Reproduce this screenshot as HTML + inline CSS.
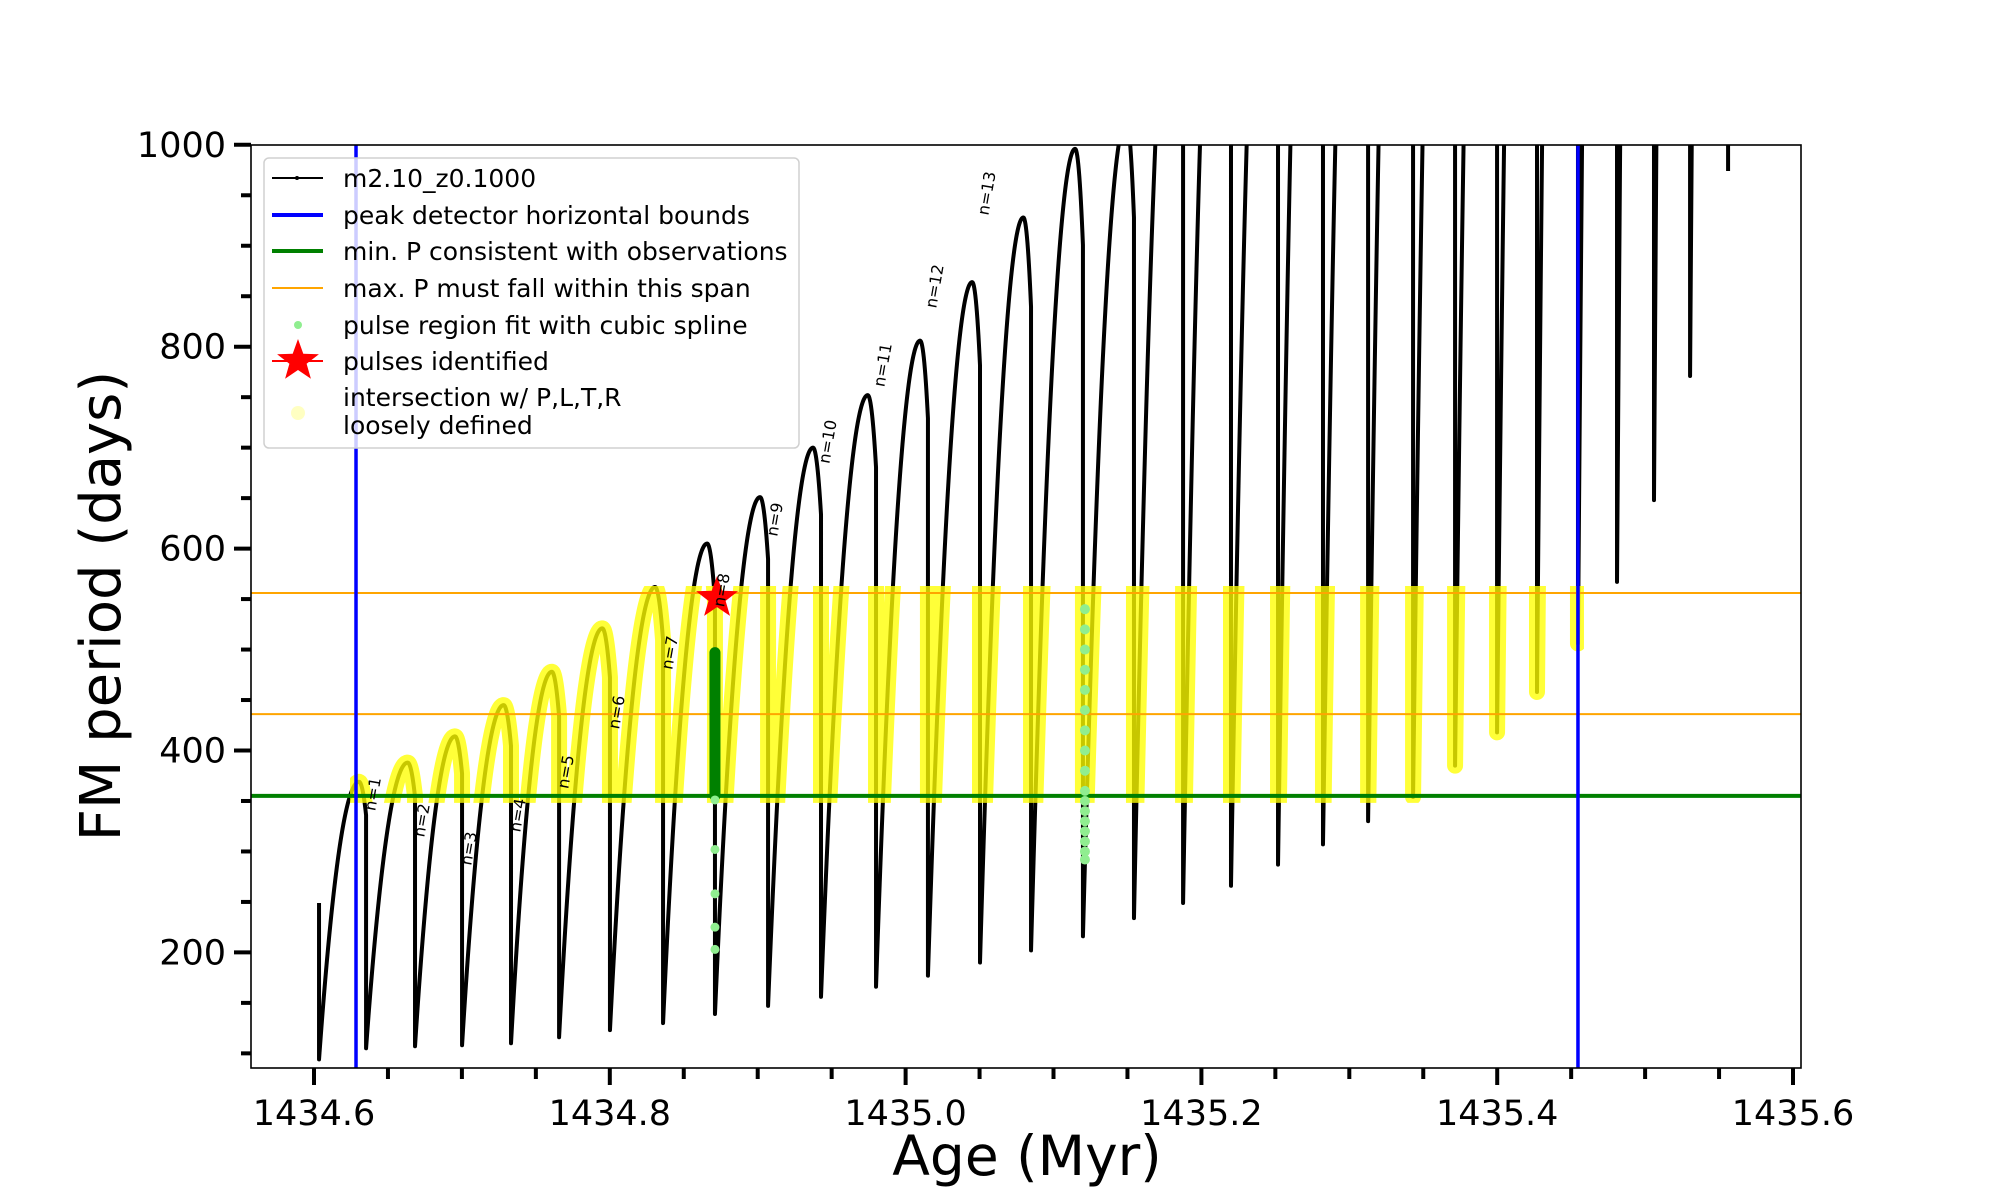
<!DOCTYPE html>
<html><head><meta charset="utf-8"><title>FM period vs Age</title>
<style>
html,body{margin:0;padding:0;background:#fff;}
svg{display:block;font-family:"DejaVu Sans","Liberation Sans",sans-serif;}
</style></head>
<body>
<svg id="chart" width="2000" height="1200" viewBox="0 0 2000 1200">
  <defs>
    <clipPath id="plotClip"><rect x="251" y="145" width="1550" height="923"/></clipPath>
    <clipPath id="bandClip"><rect id="bandRect" x="0" y="0" width="0" height="0"/></clipPath>
  </defs>
  <rect x="0" y="0" width="2000" height="1200" fill="#fff"/>
  <g id="plot" clip-path="url(#plotClip)"></g>
  <rect x="251" y="145" width="1550" height="923" fill="none" stroke="#000" stroke-width="1.6"/>
  <g id="xticks"></g>
  <g id="yticks"></g>
  <text x="1027" y="1175" font-size="55" text-anchor="middle">Age (Myr)</text>
  <text transform="translate(120,606) rotate(-90)" font-size="56" text-anchor="middle">FM period (days)</text>

  <g>
    <rect x="264" y="158" width="535" height="290" rx="5" fill="#fff" fill-opacity="0.8" stroke="#d0d0d0" stroke-width="1.5"/>
    <g>
      <line x1="272" y1="178" x2="323" y2="178" stroke="#000" stroke-width="2"/>
      <circle cx="297" cy="178" r="2" fill="#000"/>
      <text x="343" y="187" font-size="25">m2.10_z0.1000</text>
    </g>
    <g>
      <line x1="272" y1="215" x2="323" y2="215" stroke="#0000ff" stroke-width="4"/>
      <text x="343" y="224" font-size="25">peak detector horizontal bounds</text>
    </g>
    <g>
      <line x1="272" y1="251" x2="323" y2="251" stroke="#008000" stroke-width="4"/>
      <text x="343" y="260" font-size="25">min. P consistent with observations</text>
    </g>
    <g>
      <line x1="272" y1="288" x2="323" y2="288" stroke="#ffa500" stroke-width="2"/>
      <text x="343" y="297" font-size="25">max. P must fall within this span</text>
    </g>
    <g>
      <circle cx="298" cy="325" r="4" fill="#90ee90"/>
      <text x="343" y="334" font-size="25">pulse region fit with cubic spline</text>
    </g>
    <g>
      <line x1="272" y1="361" x2="323" y2="361" stroke="#ff0000" stroke-width="2"/>
      <polygon id="legendStar" fill="#ff0000"/>
      <text x="343" y="370" font-size="25">pulses identified</text>
    </g>
    <g>
      <circle cx="298" cy="413" r="7" fill="#ffff99" fill-opacity="0.6"/>
      <text x="343" y="406" font-size="25">intersection w/ P,L,T,R</text>
      <text x="343" y="434" font-size="25">loosely defined</text>
    </g>
  </g>
</svg>
<script>
// ---- data ----
const pulseAges = [1434.6034,1434.6352,1434.6683,1434.7001,1434.7332,1434.7657,1434.8001,1434.8360,1434.8711,1434.9070,1434.9428,1434.9800,1435.0151,1435.0503,1435.0848,1435.1199,1435.1544,1435.1876,1435.2200,1435.2518,1435.2822,1435.3127,1435.3431,1435.3715,1435.3999,1435.4269,1435.4546,1435.4810,1435.5060,1435.5304,1435.5561];
const archPeaks = [369,388,414,445,478,521,562,605,651,700,752,806,864,928,996,1025,1240,1390,1430,1600,1590,1750,1760,1850,1990,2460,2650,2850,3000,3060];
const pulseMins = [94,105,107,108,110,116,123,130,139,147,156,166,177,190,202,216,234,249,266,287,307,330,354,385,418,458,506,567,648,771,974];
const firstTop = 249;
const blueBounds = [1434.6284, 1435.4546];
const minP = 355;
const maxPSpan = [436, 556];
const xTicks = [1434.6,1434.8,1435.0,1435.2,1435.4,1435.6];
const xTickLabels = ["1434.6","1434.8","1435.0","1435.2","1435.4","1435.6"];
const yTicks = [200,400,600,800,1000];
const yTickLabels = ["200","400","600","800","1000"];
const pulseLabels = ["n=1","n=2","n=3","n=4","n=5","n=6","n=7","n=8","n=9","n=10","n=11","n=12","n=13"];
const pulseLabelVals = [356,330,302,335,378,437,496,558,628,705,781,859,951];
const splineDarkRange = [355, 497];
const splineLightA = [351, 302, 258, 225, 203];
const splineLightB = [540, 520, 500, 480, 460, 440, 420, 400, 380, 360, 350, 340, 330, 320, 310, 300, 292];
const starAge = 1434.8725, starVal = 551;

// ---- axes ----
const X0=251, X1=1801, Y0=145, Y1=1068;
const xMin=1434.5574, xMax=1435.6054, yMin=85.5, yMax=999.8;
const sx = a => X0 + (a-xMin)/(xMax-xMin)*(X1-X0);
const sy = v => Y1 - (v-yMin)/(yMax-yMin)*(Y1-Y0);
const NS='http://www.w3.org/2000/svg';
const svg=document.getElementById('chart');
const plot=document.getElementById('plot');
function mk(tag, attrs, parent){const e=document.createElementNS(NS,tag);for(const k in attrs)e.setAttribute(k,attrs[k]);(parent||svg).appendChild(e);return e;}

const xg=document.getElementById('xticks');
for(let a=1434.6;a<=1435.6001;a+=0.05){
  const major=Math.abs(Math.round(a*5)-a*5)<1e-6;
  const t=mk('line',{x1:sx(a),x2:sx(a),y1:Y1,y2:Y1+(major?17:11),stroke:'#000','stroke-width':4},xg);
  
  
}
xTicks.forEach((a,i)=>{
  const t=mk('text',{x:sx(a),y:Y1+57,'font-size':35,'text-anchor':'middle'},xg);
  t.textContent=xTickLabels[i];
  
  
});
const yg=document.getElementById('yticks');
for(let v=100;v<=1000;v+=50){
  const major=v%200===0;
  const t=mk('line',{x1:X0-(major?17:10),x2:X0,y1:sy(v),y2:sy(v),stroke:'#000','stroke-width':4},yg);
  
  
}
yTicks.forEach((v,i)=>{
  const t=mk('text',{x:226,y:sy(v)+12,'font-size':35,'text-anchor':'end'},yg);
  t.textContent=yTickLabels[i];
  
  
});

function shape(s){const sp=0.85;if(s<=sp){const u=1-s/sp;return 1-u*u;}const w=(s-sp)/(1-sp);return 1-0.12*w*w;}
let d='M'+sx(pulseAges[0]).toFixed(2)+','+sy(firstTop).toFixed(2)+' L'+sx(pulseAges[0]).toFixed(2)+','+sy(pulseMins[0]).toFixed(2);
for(let i=0;i<archPeaks.length;i++){
  const a0=pulseAges[i],a1=pulseAges[i+1],m=pulseMins[i],p=archPeaks[i];
  const N=100;
  for(let k=1;k<=N;k++){const s=k/N;const v=m+(p-m)*shape(s);d+=' L'+sx(a0+(a1-a0)*s).toFixed(2)+','+sy(v).toFixed(2);}
  d+=' L'+sx(a1).toFixed(2)+','+sy(pulseMins[i+1]).toFixed(2);
}
const br=document.getElementById('bandRect');
br.setAttribute('x',sx(blueBounds[0])-6);
br.setAttribute('width',sx(blueBounds[1])-sx(blueBounds[0])+12);
br.setAttribute('y',sy(maxPSpan[1])-7);
br.setAttribute('height',sy(minP)-sy(maxPSpan[1])+14);

const curve=mk('path',{d:d,fill:'none',stroke:'#000','stroke-width':4,'stroke-linejoin':'round'},plot);



const yel=mk('path',{d:d,fill:'none',stroke:'#ffff00','stroke-width':16,'stroke-opacity':0.78,'stroke-linejoin':'round','stroke-linecap':'round','clip-path':'url(#bandClip)'},plot);



[maxPSpan[0],maxPSpan[1]].forEach(v=>{
  const l=mk('line',{x1:X0,x2:X1,y1:sy(v),y2:sy(v),stroke:'#ffa500','stroke-width':2},plot);
  
  
});
const gl=mk('line',{x1:X0,x2:X1,y1:sy(minP),y2:sy(minP),stroke:'#008000','stroke-width':4},plot);


blueBounds.forEach(a=>{
  const l=mk('line',{x1:sx(a),x2:sx(a),y1:Y0,y2:Y1,stroke:'#0000ff','stroke-width':3.5},plot);
  
  
});

const dg=mk('line',{x1:sx(pulseAges[8]),x2:sx(pulseAges[8]),y1:sy(splineDarkRange[0]),y2:sy(splineDarkRange[1]),stroke:'#008000','stroke-width':11,'stroke-linecap':'round'},plot);


splineLightA.forEach(v=>{
  const c=mk('circle',{cx:sx(pulseAges[8]),cy:sy(v),r:4.5,fill:'#90ee90'},plot);
  
  
});
splineLightB.forEach(v=>{
  const c=mk('circle',{cx:sx(pulseAges[15])+2,cy:sy(v),r:5,fill:'#90ee90'},plot);
  
  
});

function starPts(cx,cy,R,r){let p=[];for(let k=0;k<10;k++){const ang=-Math.PI/2+k*Math.PI/5;const rr=k%2?r:R;p.push((cx+rr*Math.cos(ang)).toFixed(1)+','+(cy+rr*Math.sin(ang)).toFixed(1));}return p.join(' ');}
const st=mk('polygon',{points:starPts(sx(starAge),sy(starVal),22,9),fill:'#ff0000'},plot);


document.getElementById('legendStar').setAttribute('points',starPts(298,361,22,9));

pulseLabels.forEach((t,i)=>{
  const x=sx(pulseAges[i+1])+12, y=sy(pulseLabelVals[i]);
  const e=mk('text',{x:0,y:0,'font-size':16,'text-anchor':'middle',transform:`translate(${x},${y}) rotate(-80)`},svg);
  e.textContent=t;
  
  
});
</script>
</body></html>
